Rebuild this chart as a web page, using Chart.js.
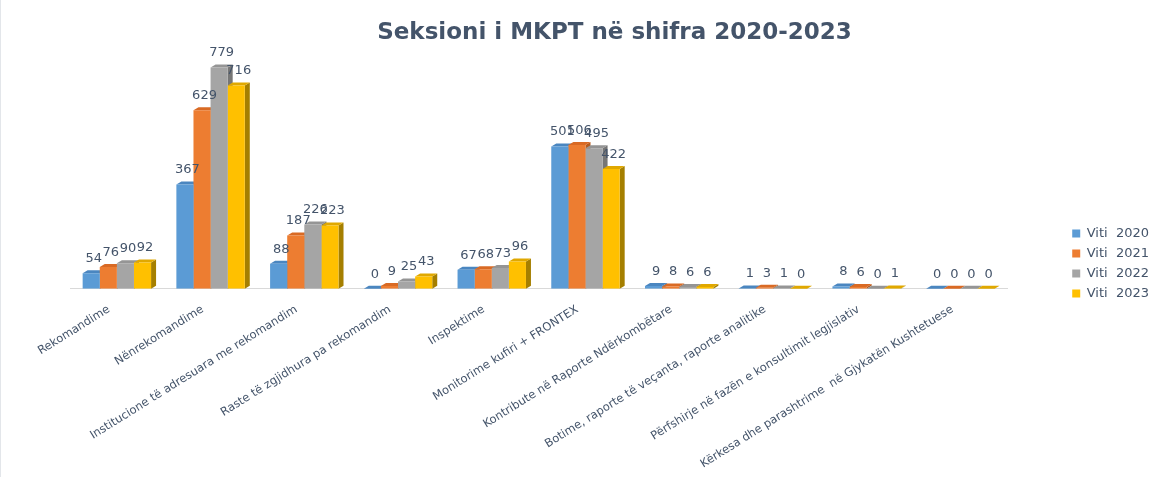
<!DOCTYPE html>
<html>
<head>
<meta charset="utf-8">
<script src="https://cdn.jsdelivr.net/npm/chart.js@4.4.1/dist/chart.umd.min.js"></script>
<style>
  body { margin: 0; background: #fff; }
  #wrap { position: relative; width: 1164px; height: 477px; border-left: 1px solid #e3e6ea; box-sizing: border-box; }
</style>
</head>
<body>
<div id="wrap"><canvas id="mkptChart" width="1163" height="477"></canvas></div>
<script>
var categories = [
  'Rekomandime',
  'Nënrekomandime',
  'Institucione të adresuara me rekomandim',
  'Raste të zgjidhura pa rekomandim',
  'Inspektime',
  'Monitorime kufiri + FRONTEX',
  'Kontribute në Raporte Ndërkombëtare',
  'Botime, raporte të veçanta, raporte analitike',
  'Përfshirje në fazën e konsultimit legjislativ',
  'Kërkesa dhe parashtrime  në Gjykatën Kushtetuese'
];
var seriesNames = ['Viti  2020', 'Viti  2021', 'Viti  2022', 'Viti  2023'];
var viti2020 = [54, 367, 88, 0, 67, 501, 9, 1, 8, 0];
var viti2021 = [76, 629, 187, 9, 68, 506, 8, 3, 6, 0];
var viti2022 = [90, 779, 226, 25, 73, 495, 6, 1, 0, 0];
var viti2023 = [92, 716, 223, 43, 96, 422, 6, 0, 1, 0];

var fills = ['#5b9bd5', '#ed7d31', '#a5a5a5', '#ffc000'];
var sides = ['#3f73a6', '#b45b1f', '#767676', '#a57f00'];
var tops = ['#4a86c0', '#d96a24', '#959595', '#e0a800'];
var textColor = '#44546a';
var D = 5, H = 3;

// fake 3D: side and top faces drawn under the bars
var bar3d = {
  id: 'bar3d',
  beforeDatasetsDraw: function(chart) {
    var ctx = chart.ctx;
    ctx.save();
    chart.data.datasets.forEach(function(ds, i) {
      chart.getDatasetMeta(i).data.forEach(function(bar) {
        var p = bar.getProps(['x', 'y', 'base', 'width'], true);
        var l = p.x - p.width / 2, r = p.x + p.width / 2;
        ctx.fillStyle = sides[i];
        ctx.beginPath();
        ctx.moveTo(r, p.y);
        ctx.lineTo(r + D, p.y - H);
        ctx.lineTo(r + D, p.base - H);
        ctx.lineTo(r, p.base);
        ctx.closePath();
        ctx.fill();
        ctx.fillStyle = tops[i];
        ctx.beginPath();
        ctx.moveTo(l, p.y);
        ctx.lineTo(l + D, p.y - H);
        ctx.lineTo(r + D, p.y - H);
        ctx.lineTo(r, p.y);
        ctx.closePath();
        ctx.fill();
      });
    });
    ctx.restore();
  },
  afterDatasetsDraw: function(chart) {
    var ctx = chart.ctx;
    ctx.save();
    ctx.fillStyle = textColor;
    ctx.font = '13px "DejaVu Sans"';
    ctx.textAlign = 'center';
    ctx.textBaseline = 'bottom';
    chart.data.datasets.forEach(function(ds, i) {
      chart.getDatasetMeta(i).data.forEach(function(bar, j) {
        var p = bar.getProps(['x', 'y'], true);
        ctx.fillText(String(ds.data[j]), p.x + D / 2, p.y - H - 5);
      });
    });
    ctx.restore();
  }
};

var allSeries = [viti2020, viti2021, viti2022, viti2023];
var ctx = document.getElementById('mkptChart').getContext('2d');
var chart = new Chart(ctx, {
  type: 'bar',
  data: {
    labels: categories,
    datasets: allSeries.map(function(vals, i) {
      return {
        label: seriesNames[i],
        data: vals,
        backgroundColor: fills[i],
        borderWidth: 0,
        barPercentage: 1,
        categoryPercentage: 0.73
      };
    })
  },
  options: {
    responsive: false,
    animation: false,
    layout: { padding: { left: 69, right: 5, top: 8, bottom: 0 } },
    plugins: {
      title: {
        display: true,
        text: 'Seksioni i MKPT në shifra 2020-2023',
        color: textColor,
        font: { family: 'DejaVu Sans', size: 23, weight: 'bold' },
        padding: { top: 11, bottom: 17 }
      },
      legend: {
        position: 'right',
        align: 'center',
        title: { display: true, text: ' ', font: { size: 10 }, padding: { top: 30, bottom: 0 } },
        labels: {
          color: textColor,
          boxWidth: 8,
          boxHeight: 8,
          padding: 7,
          font: { family: 'DejaVu Sans', size: 13 }
        }
      },
      tooltip: { enabled: false }
    },
    scales: {
      x: {
        grid: { display: false },
        border: { color: '#d9d9d9' },
        ticks: {
          color: textColor,
          autoSkip: false,
          minRotation: 32,
          maxRotation: 32,
          labelOffset: -8,
          padding: 6,
          font: { family: 'DejaVu Sans', size: 11.5 }
        }
      },
      y: {
        position: 'right',
        min: 0,
        max: 793,
        grid: { display: false },
        border: { display: false },
        ticks: { display: false },
        afterFit: function(scale) { scale.width = 58; }
      }
    }
  },
  plugins: [bar3d]
});
</script>
</body>
</html>
